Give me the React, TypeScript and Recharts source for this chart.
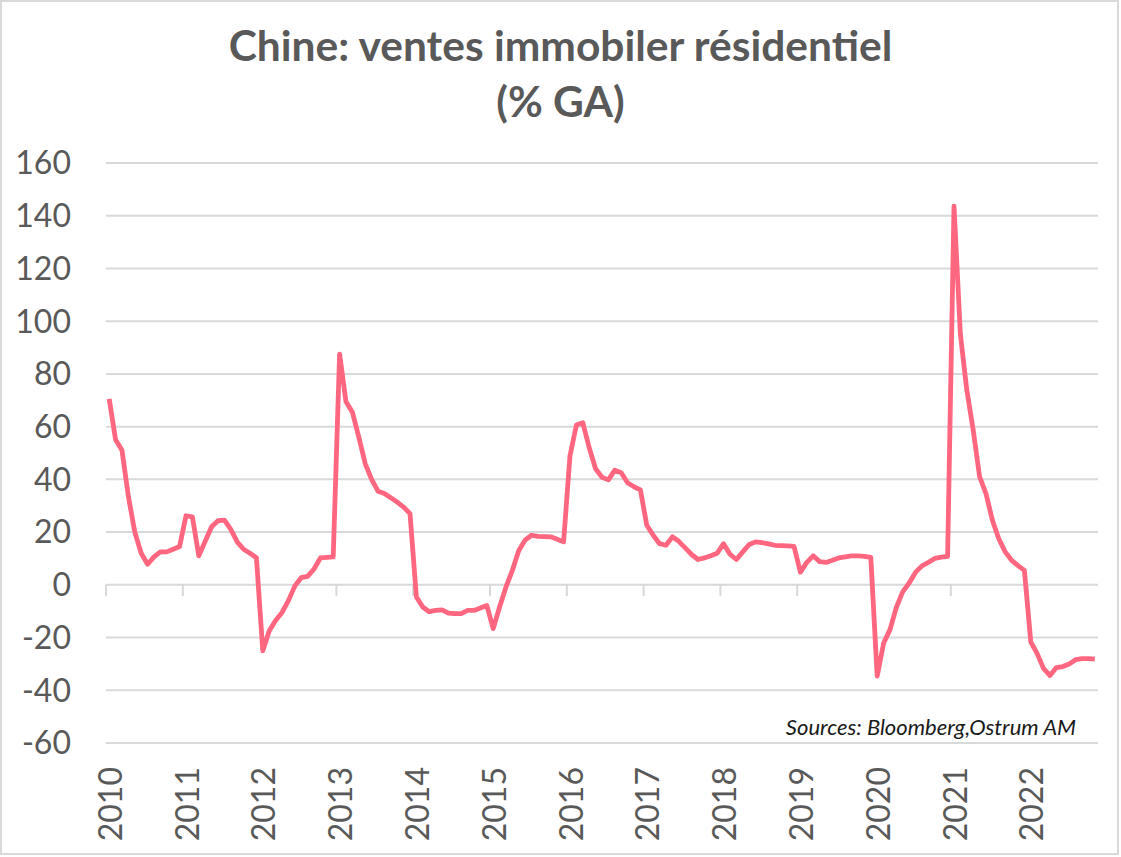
import React from "react";
import { LineChart, Line, XAxis, YAxis, CartesianGrid, ReferenceLine } from "recharts";

// % GA, monthly, one array per year (2022 ends in November)
const years = ["2010", "2011", "2012", "2013", "2014", "2015", "2016", "2017", "2018", "2019", "2020", "2021", "2022"];

const v2010 = [70.5, 55, 51, 33.5, 20, 12, 7.8, 10.6, 12.5, 12.5, 13.5, 14.5];
const v2011 = [26.2, 25.8, 11, 16.5, 22, 24.3, 24.5, 21, 16.3, 13.5, 12, 10.3];
const v2012 = [-25, -17.5, -13.5, -10.5, -6, -0.5, 2.7, 3.2, 6, 10.2, 10.4, 10.6];
const v2013 = [87.5, 69.4, 65.5, 56, 46, 40, 35.5, 34.6, 33, 31.4, 29.5, 27];
const v2014 = [-4.6, -8.4, -10.2, -9.7, -9.5, -10.7, -10.9, -10.9, -9.7, -9.7, -8.8, -7.8];
const v2015 = [-16.6, -8.4, -0.8, 5.5, 13, 17, 18.8, 18.4, 18.3, 18.2, 17.3, 16.3];
const v2016 = [49, 60.6, 61.5, 52, 44, 40.8, 39.8, 43.5, 42.5, 38.7, 37.2, 36];
const v2017 = [22.6, 18.8, 15.6, 15, 18.2, 16.5, 14, 11.5, 9.6, 10.2, 11, 12];
const v2018 = [15.6, 11.6, 9.6, 12.5, 15.3, 16.3, 16, 15.5, 15, 14.9, 14.8, 14.6];
const v2019 = [4.8, 8.5, 11, 8.8, 8.5, 9.3, 10.2, 10.6, 11, 11, 10.8, 10.4];
const v2020 = [-34.6, -22.2, -17, -8.5, -2.6, 0.7, 4.8, 7.2, 8.5, 10, 10.5, 10.8];
const v2021 = [143.6, 95, 73.9, 58.7, 41, 34.6, 24.5, 17.5, 12.5, 9.3, 7.3, 5.5];
const v2022 = [-21.7, -26.1, -31.8, -34.4, -31.4, -31, -30, -28.4, -28, -28, -28.2];

const yTicks = [-60, -40, -20, 0, 20, 40, 60, 80, 100, 120, 140, 160];

const values = [
  ...v2010, ...v2011, ...v2012, ...v2013, ...v2014, ...v2015, ...v2016,
  ...v2017, ...v2018, ...v2019, ...v2020, ...v2021, ...v2022,
];
const data = values.map((v, i) => ({ i, v }));

const GREY = "#595959";
const GRID = "#d9d9d9";
const FONT = "Lato, 'Open Sans', sans-serif";

const labelTicks = years.map((_, k) => k * 12);
const tickBounds = years.map((_, k) => k * 12 - 0.5);

function YearTick({ x, y, payload }: any) {
  const label = years[Math.round(payload.value / 12)];
  return (
    <text
      x={x}
      y={y}
      transform={`rotate(-90, ${x}, ${y})`}
      textAnchor="end"
      dominantBaseline="central"
      fontSize={32}
      fontFamily={FONT}
      fill={GREY}
    >
      {label}
    </text>
  );
}

export default function App() {
  return (
    <div
      style={{
        position: "absolute",
        left: 0,
        top: 0,
        width: 1121,
        height: 857,
        background: "#fff",
        fontFamily: FONT,
      }}
    >
      <div
        style={{
          position: "absolute",
          left: 0,
          top: 0,
          width: 1119,
          height: 855,
          border: `2px solid ${GRID}`,
          boxSizing: "border-box",
        }}
      />

      {/* Title */}
      <div
        style={{
          position: "absolute",
          left: 0,
          top: 17,
          width: 1121,
          textAlign: "center",
          fontSize: 42.5,
          fontWeight: 700,
          lineHeight: "56px",
          color: GREY,
        }}
      >
        <div>Chine: ventes immobiler résidentiel</div>
        <div>(% GA)</div>
      </div>

      <div style={{ position: "absolute", left: 0, top: 0 }}>
        <LineChart
          width={1121}
          height={857}
          data={data}
          margin={{ top: 163, right: 23, bottom: 14, left: 12 }}
        >
          <CartesianGrid vertical={false} stroke={GRID} strokeWidth={2} />
          <XAxis
            type="number"
            dataKey="i"
            domain={[-0.5, 154.5]}
            ticks={labelTicks}
            interval={0}
            allowDataOverflow
            height={100}
            tick={<YearTick />}
            tickLine={false}
            axisLine={false}
            tickMargin={18}
          />
          <YAxis
            type="number"
            domain={[-60, 160]}
            ticks={yTicks}
            interval={0}
            width={94}
            tickLine={false}
            axisLine={false}
            tickMargin={29}
            tick={{ fontSize: 32, fill: GREY, fontFamily: FONT }}
          />
          {tickBounds.map((b) => (
            <ReferenceLine
              key={b}
              segment={[
                { x: b, y: 0 },
                { x: b, y: -4.3 },
              ]}
              stroke={GRID}
              strokeWidth={2}
              ifOverflow="visible"
            />
          ))}
          <Line
            type="linear"
            dataKey="v"
            stroke="#ff6680"
            strokeWidth={4.8}
            strokeLinejoin="round"
            dot={false}
            activeDot={false}
            isAnimationActive={false}
          />
        </LineChart>
      </div>

      {/* Source */}
      <div
        style={{
          position: "absolute",
          right: 1121 - 1076,
          top: 713,
          fontSize: 22,
          fontStyle: "italic",
          color: "#1a1a1a",
          whiteSpace: "nowrap",
        }}
      >
        Sources: Bloomberg,Ostrum AM
      </div>
    </div>
  );
}
